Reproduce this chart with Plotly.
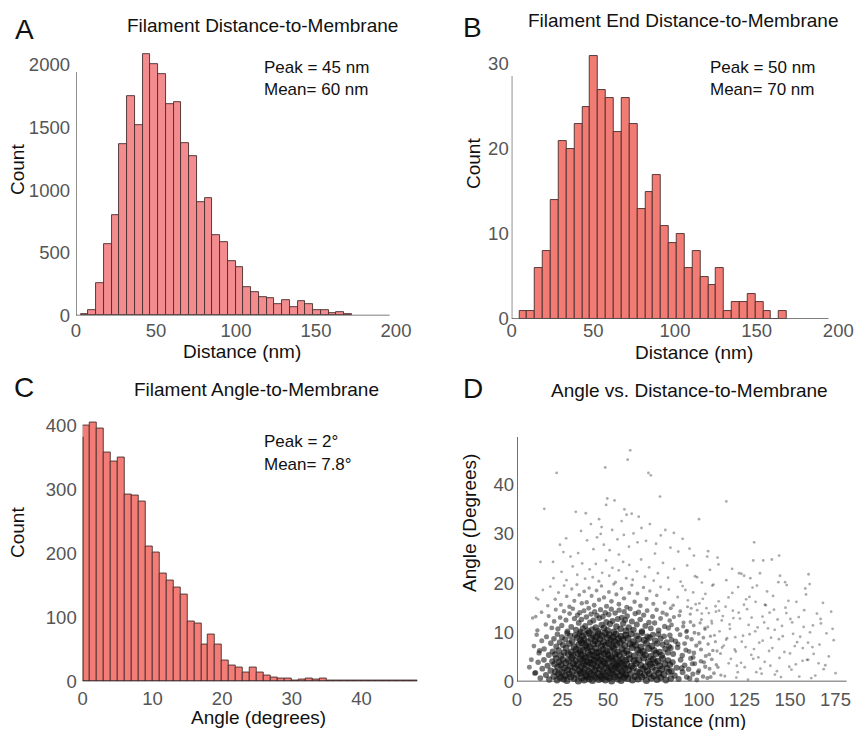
import math
import plotly.graph_objects as go

W, H = 854, 730
FONT = "Liberation Sans, Arial, Helvetica, sans-serif"

# ---------------- data ----------------
# A: Filament Distance-to-Membrane histogram
a_counts = [12, 47, 259, 568, 799, 1368, 1748, 1517, 2085, 2009, 1925, 1689, 1703, 1379,
            1273, 906, 937, 640, 588, 435, 385, 224, 184, 148, 140, 92, 119, 71, 113, 92,
            40, 47, 16, 29, 8]
a_bin_start, a_bin_width = 2.94, 4.84

# B: Filament End Distance-to-Membrane histogram
b_counts = [1, 1, 6, 8, 14, 21, 20, 23, 25, 31, 27, 26, 22, 26, 23, 13, 15, 17, 11, 9, 10,
            6, 8, 5, 4, 6, 1, 2, 2, 3, 2, 1, 0, 1]
b_bin_start, b_bin_width = 4.65, 4.82

# C: Filament Angle-to-Membrane histogram
c_counts = [400, 405, 395, 358, 343, 349, 292, 290, 281, 211, 202, 168, 157, 147, 135, 94,
            90, 57, 73, 58, 33, 24, 22, 14, 22, 14, 9, 6, 5, 4, 2, 3, 4, 3, 4, 1, 1, 2, 1,
            1, 1, 1, 2, 1, 1, 1, 2, 1]
c_bin_start, c_bin_width = 0.0, 1.0

a_ticks_x = [0, 50, 100, 150, 200]
a_ticks_y = [0, 500, 1000, 1500, 2000]
b_ticks_x = [0, 50, 100, 150, 200]
b_ticks_y = [0, 10, 20, 30]
c_ticks_x = [0, 10, 20, 30, 40]
c_ticks_y = [0, 100, 200, 300, 400]
d_ticks_x = [0, 25, 50, 75, 100, 125, 150, 175]
d_ticks_y = [0, 10, 20, 30, 40]

# D: Angle vs Distance scatter, (distance nm, angle deg)
pts_high = [(21.8,42.4),(15.0,35.1),(48.5,43.5),(62.2,47.0),(60.8,45.1),(72.2,42.4),(73.5,41.9),
    (49.0,35.9),(49.6,37.2),(78.6,37.6),(115.0,36.6),(100.0,33.0),(59.0,35.0),(60.2,33.9),
    (63.0,34.1),(32.3,34.5),(37.8,34.2),(45.1,33.0),(46.0,30.0),(46.5,31.4),(64.0,30.1),
    (66.2,28.3),(79.0,29.7),(91.0,29.0),(73.0,32.0),(57.5,32.6),(52.3,30.8),(55.2,28.9),
    (68.4,31.2),(70.9,28.6),(84.3,27.2),(88.6,26.4),(23.6,27.8),(25.5,26.3),(130.3,28.3),
    (144.0,25.6),(140.0,24.8),(135.3,24.6),(129.8,24.6),(105.0,26.5),(104.5,25.4),(38.5,28.7),
    (42.0,26.9),(33.6,26.1),(29.4,25.4),(61.5,27.4),(75.8,26.0),(97.2,25.6),(110.2,25.2),
    (56.0,25.8),(47.7,27.8),(81.5,30.8),(35.2,30.6),(27.0,29.1),(53.6,36.8),(40.6,32.0),
    (66.9,33.5),(50.9,26.7),(58.7,29.8),(44.0,29.3),(76.4,28.0),(86.2,30.2),(94.8,27.0)]

pts_20_25 = [(12.9,24.3),(19.8,24.3),(20.0,21.0),(24.5,22.3),(27.2,20.6),(30.6,23.4),(33.1,21.7),
    (35.8,24.0),(37.4,20.9),(39.9,22.8),(41.6,21.2),(43.3,23.9),(45.0,20.4),(46.8,22.1),
    (48.9,24.6),(50.7,21.5),(52.4,23.1),(54.1,20.2),(55.9,22.6),(58.3,24.3),(60.0,21.0),
    (61.7,23.7),(63.6,20.7),(65.9,22.4),(68.2,24.8),(70.3,21.3),(72.6,23.2),(75.1,20.5),
    (77.4,22.0),(80.2,24.1),(83.0,21.1),(86.4,22.9),(89.9,20.3),(93.5,23.6),(97.8,21.4),
    (101.6,20.1),(106.0,22.7),(110.7,23.8),(115.0,20.6),(122.0,22.0),(123.3,21.9),
    (124.8,21.5),(133.5,22.0),(147.3,20.2),(160.2,21.8),(143.6,20.2)]

pts_15_20 = [(10.5,17.0),(14.2,18.6),(16.9,15.4),(18.3,19.3),(21.0,16.7),(22.8,18.1),(24.1,15.6),
    (25.9,19.5),(27.3,17.3),(28.8,15.2),(30.1,18.8),(31.5,16.4),(32.9,19.7),(34.2,17.6),
    (35.6,15.9),(36.9,18.3),(38.3,16.1),(39.6,19.0),(41.0,17.4),(42.4,15.5),(43.7,18.5),
    (45.1,16.6),(46.4,19.4),(47.8,17.1),(49.2,15.3),(50.5,18.2),(51.9,16.3),(53.2,19.8),
    (54.6,17.7),(56.0,15.7),(57.4,18.9),(58.8,16.9),(60.3,15.1),(61.7,18.0),(63.1,19.6),
    (64.6,16.2),(66.2,17.9),(67.8,15.4),(69.5,19.1),(71.2,16.8),(73.0,18.4),(74.9,15.8),
    (76.8,17.5),(78.9,19.2),(81.1,16.0),(83.4,18.7),(85.8,15.5),(88.3,17.2),(91.0,19.4),
    (93.9,16.5),(96.8,18.1),(100.2,15.9),(103.5,17.8),(107.3,19.5),(110.8,16.3),(114.6,15.2),
    (118.3,18.0),(121.5,19.2),(125.9,16.7),(129.4,19.1),(131.8,19.5),(136.2,15.6),(140.7,17.4),
    (148.2,19.6),(153.5,16.2),(158.4,18.9),(160.8,19.8)]

pts_10_15 = [(8.6,12.9),(11.2,10.4),(13.5,14.1),(15.8,11.6),(17.4,13.3),(19.1,10.9),
    (20.4,12.2),(21.3,14.6),(22.5,10.7),(23.7,13.0),(24.6,11.4),(25.8,14.3),(26.9,12.5),
    (27.7,10.2),(28.9,13.8),(29.8,11.1),(30.7,14.8),(31.6,12.8),(32.4,10.5),(33.2,13.5),
    (33.9,11.9),(34.5,14.0),(34.9,10.1),
    (35.4,12.6),(36.1,10.8),(36.8,14.4),(37.5,11.3),(38.1,13.1),(38.8,10.3),(39.4,14.9),
    (40.1,12.0),(40.7,13.7),(41.4,10.6),(42.0,12.4),(42.7,14.2),(43.3,11.0),(43.9,13.4),
    (44.6,10.2),(45.2,12.9),(45.9,14.6),(46.5,11.5),(47.2,13.2),(47.8,10.9),(48.5,14.0),
    (49.1,12.1),(49.8,10.4),(50.4,13.6),(51.1,11.7),(51.8,14.7),(52.5,12.3),(53.2,10.1),
    (53.9,13.9),(54.6,11.2),(55.4,12.7),(56.1,14.5),(56.9,10.7),(57.6,13.0),(58.3,11.8),
    (58.9,14.2),(59.4,12.5),(59.8,10.3),
    (60.5,13.3),(61.4,11.0),(62.2,14.8),(63.1,12.2),(64.0,10.5),(64.9,13.8),(65.8,11.6),
    (66.8,14.1),(67.7,12.6),(68.6,10.2),(69.6,13.5),(70.5,11.3),(71.5,14.4),(72.5,12.0),
    (73.5,10.8),(74.5,13.2),(75.6,11.9),(76.7,14.6),(77.8,10.4),(78.9,12.8),(80.0,14.0),
    (81.1,11.2),(82.2,13.6),(83.2,10.9),(83.9,12.4),(84.5,14.9),(84.9,11.5),
    (86.2,13.1),(88.0,10.6),(89.7,14.3),(91.5,12.0),(93.4,10.3),(95.2,13.7),(97.1,11.4),
    (99.0,14.5),(101.3,12.6),(103.2,10.9),(105.4,13.9),(107.1,11.8),(109.3,14.2),
    (112.5,12.4),(117.0,10.7),(121.8,14.0),(127.3,11.5),(134.9,13.2),(141.6,10.5),
    (150.2,12.7),(157.5,11.1),(164.8,13.8),(167.0,11.8)]

pts_5_10 = [(9.3,7.2),(10.8,9.5),(12.1,5.8),(13.6,8.3),(14.9,6.6),(16.2,9.1),(17.5,5.4),
    (18.6,7.8),(19.6,6.1),
    (20.3,8.7),(20.9,5.5),(21.6,7.1),(22.2,9.6),(22.9,6.3),(23.5,8.0),(24.1,5.2),(24.7,9.0),
    (25.3,7.4),(25.9,5.9),(26.5,8.6),(27.0,6.8),(27.6,9.8),(28.1,5.6),(28.7,7.7),(29.2,9.3),
    (29.8,6.0),(30.3,8.2),(30.9,5.3),(31.4,7.0),(31.9,9.4),(32.5,6.5),(33.0,8.9),(33.5,5.7),
    (34.0,7.5),(34.4,9.7),(34.7,6.2),(34.9,8.4),
    (35.2,5.4),(35.6,7.9),(36.0,9.2),(36.4,6.4),(36.8,8.5),(37.2,5.1),(37.6,7.3),(38.0,9.6),
    (38.4,6.9),(38.8,8.1),(39.2,5.8),(39.6,9.9),(40.0,7.0),(40.4,5.5),(40.8,8.8),(41.2,6.2),
    (41.6,9.4),(42.0,7.6),(42.4,5.3),(42.8,8.3),(43.2,6.7),(43.6,9.1),(44.0,5.9),(44.4,7.8),
    (44.8,9.7),(45.2,6.0),(45.6,8.6),(46.0,5.2),(46.4,7.2),(46.8,9.3),(47.2,6.5),(47.6,8.0),
    (48.0,5.7),(48.4,9.8),(48.8,7.4),(49.2,6.1),(49.6,8.9),(50.0,5.4),(50.4,7.7),(50.8,9.5),
    (51.2,6.3),(51.6,8.4),(52.0,5.0),(52.4,7.1),(52.8,9.0),(53.2,6.8),(53.6,8.2),(54.0,5.6),
    (54.4,9.6),(54.8,7.5),(55.2,6.0),(55.7,8.7),(56.2,5.3),(56.7,7.9),(57.2,9.2),(57.7,6.6),
    (58.2,8.5),(58.7,5.8),(59.2,7.3),(59.7,9.4),
    (60.3,6.2),(60.9,8.8),(61.5,5.5),(62.1,7.6),(62.7,9.7),(63.3,6.9),(63.9,8.1),(64.5,5.2),
    (65.1,7.4),(65.7,9.3),(66.3,6.4),(66.9,8.6),(67.5,5.8),(68.1,7.0),(68.7,9.9),(69.3,6.1),
    (69.9,8.4),(70.5,5.4),(71.1,7.8),(71.7,9.1),(72.3,6.7),(72.9,8.9),(73.5,5.1),(74.1,7.2),
    (74.7,9.5),(75.3,6.3),(75.9,8.3),(76.5,5.7),(77.1,7.7),(77.7,9.6),(78.3,6.0),(78.9,8.7),
    (79.5,5.3),(80.1,7.5),(80.8,9.2),(81.5,6.6),(82.2,8.0),(82.9,5.9),(83.5,7.1),(84.0,9.4),
    (84.5,6.8),(84.9,8.5),
    (85.8,5.6),(87.1,8.2),(88.3,6.9),(89.6,9.5),(90.8,5.3),(92.1,7.7),(93.4,9.0),(94.6,6.1),
    (95.9,8.6),(97.2,5.8),(98.5,7.3),(99.8,9.7),(101.1,6.5),(102.4,8.9),(103.7,5.2),
    (105.0,7.6),(106.3,9.2),(107.6,6.3),(109.0,8.1),
    (111.8,5.7),(115.4,8.8),(119.6,6.5),(124.2,9.3),(128.7,5.4),(133.1,7.9),(138.5,6.2),
    (143.9,8.6),(150.0,5.7),(155.6,9.1),(162.3,7.0),(170.0,9.8),(174.0,8.4)]

pts_0_5 = [(10.2,1.8),(11.6,3.9),(12.8,0.7),(13.9,2.6),(14.8,4.4),(15.9,1.3),(16.8,3.2),
    (17.7,0.4),(18.5,2.2),(19.4,4.1),
    (20.2,1.0),(20.6,3.5),(21.1,2.0),(21.5,4.7),(22.0,0.3),(22.4,2.9),(22.9,1.6),(23.3,4.0),
    (23.8,0.8),(24.2,3.3),(24.7,1.9),(25.1,4.5),(25.6,0.5),(26.0,2.7),(26.5,1.2),(26.9,3.8),
    (27.4,0.2),(27.8,2.4),(28.3,4.3),(28.7,1.5),(29.2,3.1),(29.6,0.9),(30.1,4.8),(30.5,2.1),
    (31.0,3.6),(31.4,0.6),(31.9,2.8),(32.3,4.2),(32.8,1.4),(33.2,3.4),(33.7,0.1),(34.1,2.3),
    (34.5,4.6),(34.9,1.7),
    (35.2,3.0),(35.5,0.7),(35.9,4.2),(36.2,1.9),(36.6,3.6),(36.9,0.3),(37.3,2.5),(37.6,4.8),
    (38.0,1.2),(38.3,3.3),(38.7,0.9),(39.0,4.0),(39.4,2.1),(39.7,0.5),(40.1,3.8),(40.4,1.6),
    (40.8,4.5),(41.1,2.7),(41.5,0.2),(41.8,3.5),(42.2,1.3),(42.5,4.3),(42.9,2.3),(43.2,0.8),
    (43.6,3.1),(43.9,4.9),(44.3,1.7),(44.6,3.9),(45.0,0.4),(45.3,2.6),(45.7,4.4),(46.0,1.1),
    (46.4,3.2),(46.7,0.6),(47.1,2.0),(47.4,4.1),(47.8,1.5),(48.1,3.7),(48.5,0.3),(48.8,2.8),
    (49.2,4.6),(49.5,1.0),(49.9,3.4),(50.2,2.2),(50.6,0.7),(50.9,4.7),(51.3,1.8),(51.6,3.0),
    (52.0,0.1),(52.3,2.4),(52.7,4.2),(53.0,1.4),(53.4,3.6),(53.7,0.9),(54.1,2.9),(54.4,4.8),
    (54.8,1.9),(55.1,3.3),(55.5,0.5),(55.8,2.6),(56.2,4.0),(56.5,1.2),(56.9,3.7),(57.2,0.2),
    (57.6,2.1),(57.9,4.5),(58.3,1.6),(58.6,3.2),(59.0,0.8),(59.3,2.7),(59.6,4.3),(59.9,1.3),
    (60.3,3.5),(60.8,0.6),(61.3,2.4),(61.8,4.6),(62.3,1.5),(62.8,3.1),(63.4,0.3),(63.9,2.8),
    (64.4,4.2),(64.9,1.0),(65.4,3.7),(65.9,2.0),(66.5,0.5),(67.0,4.4),(67.5,1.8),(68.0,3.3),
    (68.5,0.9),(69.1,2.6),(69.6,4.8),(70.1,1.3),(70.6,3.0),(71.1,0.2),(71.7,2.2),(72.2,4.0),
    (72.7,1.6),(73.2,3.5),(73.7,0.7),(74.3,2.9),(74.8,4.5),(75.3,1.1),(75.8,3.8),(76.3,2.3),
    (76.9,0.4),(77.4,4.1),(77.9,1.7),(78.4,3.2),(78.9,0.8),(79.5,2.5),(80.0,4.7),(80.6,1.4),
    (81.2,3.6),(81.8,0.3),(82.4,2.7),(83.0,4.3),(83.5,1.9),(84.0,3.4),(84.5,0.6),(84.9,2.1),
    (85.5,3.9),(86.6,1.2),(87.7,2.8),(88.8,0.5),(89.9,4.4),(91.0,1.9),(92.1,3.3),(93.2,0.9),
    (94.3,2.5),(95.4,4.7),(96.6,1.5),(97.7,3.6),(98.8,0.3),(99.9,2.2),(101.0,4.1),(102.2,1.0),
    (103.4,3.0),(104.6,0.7),(105.8,2.6),(107.0,4.5),(108.2,1.7),(109.5,3.4),
    (112.0,1.3),(116.3,3.7),(120.5,0.8),(125.1,2.9),(129.8,4.6),(134.4,1.6),(139.2,3.2),
    (145.0,0.9),(150.8,2.4),(156.9,4.2),(160.0,4.4),(161.7,0.7),(165.7,3.7),(175.0,1.7),
    (168.5,2.5),(7.9,4.4),(9.8,1.7),(6.8,2.9),(12.4,6.3),(10.3,13.2),(11.6,16.7)]

pts_tail = [(92.5,18.6),(95.7,14.9),(98.9,21.2),(102.1,16.8),(104.8,11.1),(107.9,19.7),
    (111.0,14.4),(113.6,7.3),(116.2,17.1),(118.9,12.9),(120.8,3.2),(123.5,8.1),(126.4,14.7),
    (128.2,21.0),(130.9,10.2),(132.6,4.9),(135.8,12.0),(137.4,18.3),(139.6,8.9),(141.2,14.6),
    (142.8,2.1),(145.6,11.3),(146.9,6.0),(149.1,16.4),(151.7,9.7),(153.2,3.5),(154.8,13.1),
    (157.0,6.8),(159.3,4.4),(162.6,11.4),(163.9,1.2),(166.2,7.5),(168.1,16.0),(171.3,5.1),
    (173.4,10.7),(158.8,17.7),(144.5,21.5),(127.7,17.2),(118.2,22.9),(109.9,6.2),(100.6,11.9),
    (96.3,3.6),(93.0,10.1),(131.5,1.9),(136.7,15.5),(148.0,13.9),(152.6,7.2),(161.0,10.0),
    (88.4,7.6),(89.2,13.4),(90.5,2.7),(91.3,11.2),(92.8,6.4),(93.7,15.2),(94.9,0.6),(95.3,12.1),
    (96.8,4.9),(97.5,9.9),(98.2,15.7),(99.4,1.8),(100.3,7.9),(101.5,13.8),(102.7,3.9),
    (103.3,10.6),(104.1,14.9),(105.6,5.5),(106.4,0.9),(106.9,12.3),(108.5,9.4),(109.1,15.3),
    (110.4,2.9),(111.3,10.2),(112.7,6.9),(113.1,13.3),(114.2,1.1),(114.9,8.5),(116.8,11.6),
    (117.5,4.6),(118.6,14.4),(119.9,9.0),(120.2,6.1),(121.3,1.9),(122.5,12.8),(123.1,3.8),
    (124.7,15.6),(125.6,7.0),(126.9,0.4),(127.8,9.6),(128.9,13.0),(130.2,6.6),(131.1,16.2),
    (132.2,11.0),(133.7,2.6),(135.0,8.3),(136.1,4.0),(137.9,10.8),(138.8,14.0),(140.3,6.8),
    (141.7,1.4),(143.2,12.6),(144.2,4.8),(146.0,9.2),(147.5,15.0),(149.6,3.0),(151.2,12.0),
    (153.9,8.0),(155.1,1.0),(157.8,14.5),(159.9,7.9),(163.0,5.6),(166.8,12.7),(169.4,3.3),
    (172.6,14.2)]

scatter_pts = pts_0_5 + pts_5_10 + pts_10_15 + pts_15_20 + pts_20_25 + pts_tail + pts_high
scatter_dist = [p[0] for p in scatter_pts]
scatter_angle = [p[1] for p in scatter_pts]


def centers(start, width, n):
    return [start + width * (i + 0.5) for i in range(n)]


def xdom(px0, px1):
    return [px0 / W, px1 / W]


def ydom(top, bottom):
    return [1 - bottom / H, 1 - top / H]


# marker styling: the dense core of the cloud renders as near-solid black in the figure
def dot_weight(x, y):
    d = math.hypot((x - 52.0) / 36.0, y / 12.0)
    return min(1.0, max(0.0, 1.8 - d))


weights = [dot_weight(x, y) for x, y in zip(scatter_dist, scatter_angle)]
dot_sizes = [2.8 + 4.2 * w for w in weights]
dot_colors = ["rgba(15,15,15,%.2f)" % (0.5 + 0.45 * w) for w in weights]

fig = go.Figure()

edge = dict(color="rgb(70,45,45)", width=0.9)
fig.add_trace(go.Bar(x=centers(a_bin_start, a_bin_width, len(a_counts)), y=a_counts,
                     width=a_bin_width, marker=dict(color="rgb(243,140,142)", line=edge),
                     xaxis="x", yaxis="y"))
fig.add_trace(go.Bar(x=centers(b_bin_start, b_bin_width, len(b_counts)), y=b_counts,
                     width=b_bin_width, marker=dict(color="rgb(242,124,116)", line=edge),
                     xaxis="x2", yaxis="y2"))
fig.add_trace(go.Bar(x=centers(c_bin_start, c_bin_width, len(c_counts)), y=c_counts,
                     width=c_bin_width, marker=dict(color="rgb(243,125,118)", line=edge),
                     xaxis="x3", yaxis="y3"))
fig.add_trace(go.Scatter(x=scatter_dist, y=scatter_angle, mode="markers",
                         marker=dict(size=dot_sizes, color=dot_colors, line=dict(width=0)),
                         cliponaxis=False, xaxis="x4", yaxis="y4"))

tickfont = dict(family=FONT, size=18.5, color="#555")


def ax(domain, rng, tickvals, anchor, standoff):
    return dict(domain=domain, range=rng, tickvals=tickvals, anchor=anchor,
                showline=False, showgrid=False, zeroline=False, ticks="",
                automargin=False, tickfont=tickfont, ticklabelstandoff=standoff,
                fixedrange=True)


fig.update_layout(
    width=W, height=H, margin=dict(l=0, r=0, t=0, b=0, pad=0, autoexpand=False),
    paper_bgcolor="white", plot_bgcolor="white", showlegend=False, bargap=0,
    xaxis=ax(xdom(76, 396), [0, 200], a_ticks_x, "y", 2),
    yaxis=ax(ydom(46.1, 315.5), [0, 2150], a_ticks_y, "x", 5),
    xaxis2=ax(xdom(511.7, 838.3), [0, 200], b_ticks_x, "y2", -2),
    yaxis2=ax(ydom(47, 319), [0, 32], b_ticks_y, "x2", 2),
    xaxis3=ax(xdom(82.7, 417.3), [0, 48], c_ticks_x, "y3", 4),
    yaxis3=ax(ydom(412.5, 681.3), [0, 420], c_ticks_y, "x3", 5),
    xaxis4=ax(xdom(517, 846.8), [0, 181.2], d_ticks_x, "y4", 5),
    yaxis4=ax(ydom(437, 681.5), [0, 49.7], d_ticks_y, "x4", 2),
)


# axis lines (drawn as in the figure: shorter than the plotting area)
def axline(xr, yr, x0, y0, x1, y1, color, width):
    return dict(type="line", xref=xr, yref=yr, x0=x0, y0=y0, x1=x1, y1=y1,
                line=dict(color=color, width=width), layer="above")


fig.update_layout(shapes=[
    axline("x", "y", 0, 0, 196, 0, "#555", 1.3),
    axline("x", "y", 0, 0, 0, 1943, "#555", 1.3),
    axline("x2", "y2", 0, 0, 194, 0, "#555", 1.3),
    axline("x2", "y2", 0, 0, 0, 28.6, "#555", 1.3),
    axline("x3", "y3", 0, 0, 48, 0, "#222", 1.6),
    axline("x3", "y3", 0, 0, 0, 382, "#222", 1.6),
    axline("x4", "y4", 0, 0, 181.2, 0, "#333", 1.4),
    axline("x4", "y4", 0, 0, 0, 49.7, "#333", 1.4),
])


def ann(text, x, y, size, xanchor="center", angle=0, color="#111"):
    return dict(text=text, x=x / W, y=1 - y / H, xref="paper", yref="paper",
                xanchor=xanchor, yanchor="middle", showarrow=False, textangle=angle,
                font=dict(family=FONT, size=size, color=color))


anns = [
    ann("A", 24, 30, 28), ann("B", 473, 28, 28), ann("C", 24, 387, 28), ann("D", 473, 388, 28),
    ann("Filament Distance-to-Membrane", 262, 25, 19),
    ann("Filament End Distance-to-Membrane", 683, 20, 19),
    ann("Filament Angle-to-Membrane", 256, 389, 19),
    ann("Angle vs. Distance-to-Membrane", 689, 390, 19),
    ann("Peak = 45 nm", 262, 67, 17, "left"), ann("Mean= 60 nm", 262, 89, 17, "left"),
    ann("Peak = 50 nm", 708, 67, 17, "left"), ann("Mean= 70 nm", 708, 89, 17, "left"),
    ann("Peak = 2°", 262, 442, 17, "left"), ann("Mean= 7.8°", 262, 464, 17, "left"),
    ann("Count", 17, 170, 19, angle=-90), ann("Distance (nm)", 242, 351, 19),
    ann("Count", 473, 163, 19, angle=-90), ann("Distance (nm)", 694, 352, 19),
    ann("Count", 17, 533, 19, angle=-90), ann("Angle (degrees)", 258, 717, 19),
    ann("Angle (Degrees)", 469, 523, 19, angle=-90), ann("Distance (nm)", 688, 720, 18.5),
]
fig.update_layout(annotations=anns)

fig.write_html(
    "out.html",
    config={"displayModeBar": False},
    post_script="document.body.style.margin='0';document.body.style.padding='0';"
                "document.documentElement.style.overflow='hidden';",
)
